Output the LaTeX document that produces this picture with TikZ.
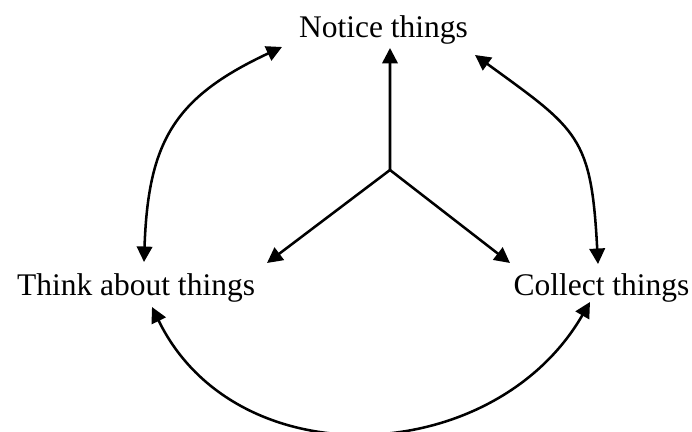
\documentclass[tikz,border=0pt]{standalone}
\usepackage{fontspec}
\setmainfont{Liberation Serif}
\usetikzlibrary{arrows.meta,calc}

\begin{document}
\begin{tikzpicture}[
  x=0.025cm, y=0.025cm,
  every node/.style={inner sep=0pt, anchor=base, font=\fontsize{22.4}{27}\selectfont},
  link/.style={line width=1.8pt, -{Triangle[length=11pt,width=11pt]}},
  twoway/.style={line width=1.8pt, {Triangle[length=11pt,width=11pt]}-{Triangle[length=11pt,width=11pt]}}
]
  \useasboundingbox (0,0) rectangle (692,432);
  \node (notice) at (383.5,394) {Notice things};
  \node (think) at (136,136) {Think about things};
  \node (collect) at (601.5,136) {Collect things};
  \coordinate (hub) at (390,262);

  % from the middle out
  \draw[link] (hub) -- ($(notice.base)+(6.5,-10)$);
  \draw[link] (hub) -- ($(think.base)+(131,33)$);
  \draw[link] (hub) -- ($(collect.base)+(-91.5,33)$);

  % round the outside
  \draw[twoway] ($(think.base)+(8,34)$) to[out=88,in=-155,looseness=1.2] ($(notice.base)+(-101.5,-9)$);
  \draw[twoway] ($(notice.base)+(91.5,-17)$) to[out=-36,in=93,looseness=1.35] ($(collect.base)+(-3.5,32)$);
  \draw[twoway] ($(think.base)+(16,-11)$) to[out=-64,in=-120,looseness=1.12] ($(collect.base)+(-11.5,-6)$);
\end{tikzpicture}
\end{document}
